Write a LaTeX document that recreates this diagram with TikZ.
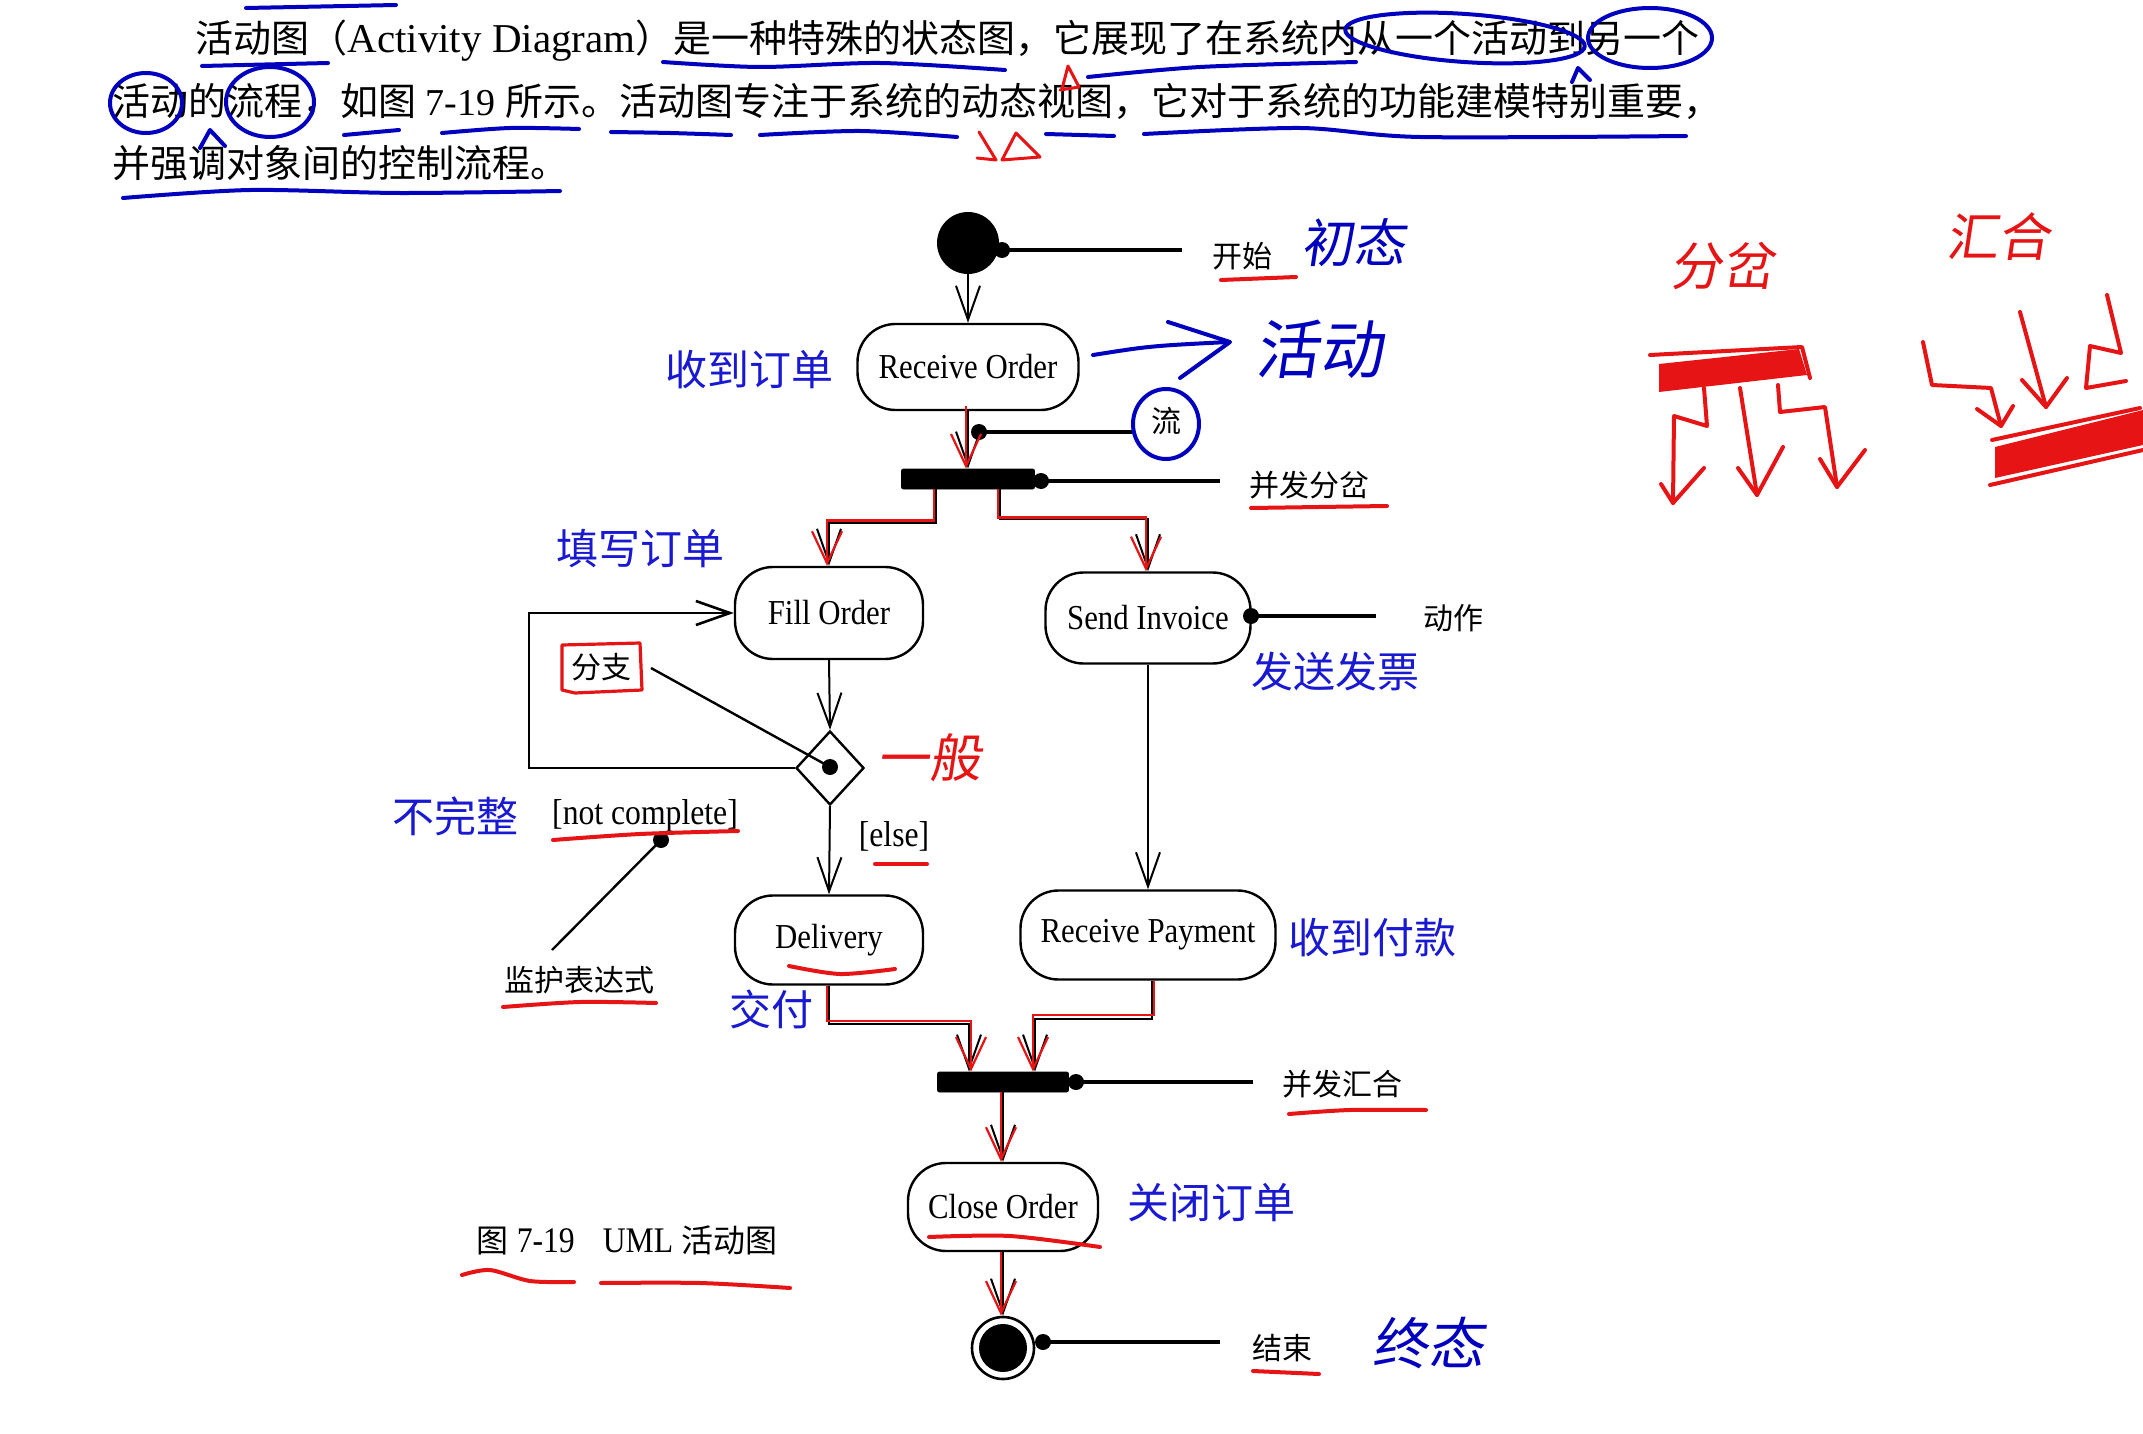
\documentclass[tikz,border=0pt]{standalone}
\usepackage{fontspec}
\setmainfont{Liberation Serif}
\newfontfamily\condserif[FakeStretch=0.88]{Liberation Serif}
\newfontfamily\cjk{Noto Sans CJK SC}
\newfontfamily\cjkhand[FakeSlant=0.15]{Noto Sans CJK SC}
\usetikzlibrary{arrows.meta,shapes.geometric,calc}
\definecolor{typeblue}{RGB}{25,25,210}
\definecolor{penblue}{RGB}{0,0,190}
\definecolor{penred}{RGB}{230,20,20}
\tikzset{
  act/.style={draw, line width=1.2pt, rounded corners=19pt, inner sep=0pt, font=\condserif\fontsize{17.5}{18}\selectfont},
  flow/.style={line width=1pt, -{Straight Barb[length=17pt,width=12pt]}},
  rflow/.style={draw=penred, line width=1.1pt, -{Straight Barb[length=16pt,width=15pt]}},
  lead/.style={line width=2pt},
  thin lead/.style={line width=1.2pt},
  dot/.style={circle, fill, inner sep=0pt, minimum size=8pt},
  lbl/.style={inner sep=0pt, font=\cjk\fontsize{15}{16}\selectfont},
  blbl/.style={inner sep=0pt, text=typeblue, font=\cjk\fontsize{21}{22}\selectfont},
  ltx/.style={inner sep=0pt, font=\condserif\fontsize{18}{19}\selectfont},
  para/.style={inner sep=0pt, anchor=west, font=\fontsize{19}{20}\selectfont},
  bpen/.style={draw=penblue, line width=2pt, line cap=round, line join=round},
  rpen/.style={draw=penred, line width=2pt, line cap=round, line join=round},
  bhand/.style={inner sep=0pt, text=penblue, font=\cjkhand\fontsize{26}{27}\selectfont},
  rhand/.style={inner sep=0pt, text=penred, font=\cjkhand\fontsize{26}{27}\selectfont},
  bar/.style={fill=black, draw=black, inner sep=0pt, minimum height=10pt, rounded corners=1pt},
}
\begin{document}
\begin{tikzpicture}[x=0.5pt,y=-0.5pt]
\useasboundingbox (0,0) rectangle (2143,1434);
\fill[white] (0,0) rectangle (2143,1434);

% ---------- paragraph ----------
\node[para] (p1) at (195,41) {{\cjk 活动图（}{\fontsize{20.5}{21}\selectfont Activity Diagram}{\cjk ）是一种特殊的状态图，它展现了在系统内从一个活动到另一个}};
\node[para] (p2) at (112,101) {{\cjk 活动的流程，如图} 7-19 {\cjk 所示。活动图专注于系统的动态视图，它对于系统的功能建模特别重要，}};
\node[para] (p3) at (112,163) {{\cjk 并强调对象间的控制流程。}};

% blue pen marks on paragraph
\draw[bpen] (246,8) -- (396,5);
\draw[bpen] plot[smooth] coordinates {(663,62) (760,67) (880,63) (1005,70)};
\draw[bpen] plot[smooth] coordinates {(1088,77) (1200,67) (1356,62)};
\draw[bpen, rotate around={-4:(1465,38)}] (1465,38) ellipse [x radius=120, y radius=24];
\draw[bpen] (1650,38) ellipse [x radius=62, y radius=30];
\draw[bpen] (1572,82) -- (1578,68) -- (1590,80);
\draw[bpen] (146,103) ellipse [x radius=36, y radius=30];
\draw[bpen] (270,102) ellipse [x radius=44, y radius=35];
\draw[bpen] (202,66) -- (328,63);
\draw[bpen] (200,148) -- (210,130) -- (225,146);
\draw[bpen] (344,135) -- (399,130);
\draw[bpen] plot[smooth] coordinates {(442,133) (510,128) (579,129)};
\draw[bpen] plot[smooth] coordinates {(611,132) (670,133) (731,135)};
\draw[bpen] plot[smooth] coordinates {(760,135) (860,131) (957,137)};
\draw[bpen] (1046,134) -- (1114,136);
\draw[bpen] plot[smooth] coordinates {(1144,134) (1300,128) (1420,137) (1686,136)};
\draw[bpen] plot[smooth] coordinates {(123,198) (250,190) (400,193) (560,191)};
% red marks on paragraph
\draw[rpen, line width=1.5pt] (1062,89) -- (1068,66) -- (1079,87) -- (1060,90);
\draw[rpen, line width=1.5pt] (979,132) -- (996,160) -- (977,158);
\draw[rpen, line width=1.5pt] (1002,160) -- (1016,133) -- (1040,157) -- (1002,160);

% ---------- diagram nodes ----------
\node[circle, fill, inner sep=0pt, minimum size=31pt] (start) at (968,243) {};
\node[dot] (sdot) at (1002,250) {};
\node[act, minimum width=110.5pt, minimum height=43pt] (ro) at (968,367) {Receive Order};
\node[bar, minimum width=66.5pt] (fork) at (968,479) {};
\node[dot] (fdot) at (1041,481) {};
\node[act, minimum width=94pt, minimum height=46pt] (fill) at (829,613) {Fill Order};
\node[act, minimum width=102.5pt, minimum height=45.5pt] (send) at (1148,618) {Send Invoice};
\node[dot] (sidot) at (1251,616) {};
\node[diamond, draw, line width=1.2pt, inner sep=0pt, minimum width=34pt, minimum height=37pt] (dia) at (830,768) {};
\node[dot] (ddot) at (830,767) {};
\node[act, minimum width=94pt, minimum height=44.5pt] (del) at (829,940) {Delivery};
\node[act, minimum width=127.5pt, minimum height=44.5pt] (rp) at (1148,935) {Receive Payment};
\node[bar, minimum width=65.5pt] (join) at (1003,1082) {};
\node[dot] (jdot) at (1076,1082) {};
\node[act, minimum width=95pt, minimum height=44pt] (close) at (1003,1207) {Close Order};
\node[circle, draw, line width=1.3pt, inner sep=0pt, minimum size=31pt] (endc) at (1003,1348) {};
\node[circle, fill, inner sep=0pt, minimum size=24pt] (endin) at (1003,1348) {};
\node[dot] (edot) at (1043,1342) {};
\node[dot] (rdot) at (979,432) {};
\node[dot] (gdot) at (661,840) {};

% ---------- labels ----------
\node[lbl] (lstart) at (1242,256) {开始};
\node[lbl] (lfork) at (1309,485) {并发分岔};
\node[lbl] (lact) at (1453,618) {动作};
\node[lbl] (ljoin) at (1342,1084) {并发汇合};
\node[lbl] (lend) at (1282,1348) {结束};
\node[lbl] (lguard) at (579,980) {监护表达式};
\node[lbl] (lbranch) at (601,667) {分支};
\node[lbl] (lflow) at (1166,421) {流};
\node[ltx] (lnc) at (645,816) {[not complete]};
\node[ltx] (lelse) at (894,836) {[else]};
\node[inner sep=0pt, font=\condserif\fontsize{18}{19}\selectfont] (cap) at (627,1240) {{\cjk\fontsize{16}{17}\selectfont 图} 7-19\hspace{14pt}UML {\cjk\fontsize{16}{17}\selectfont 活动图}};

\node[blbl] (b1) at (749,370) {收到订单};
\node[blbl] (b2) at (640,549) {填写订单};
\node[blbl] (b3) at (1335,672) {发送发票};
\node[blbl] (b4) at (455,816) {不完整};
\node[blbl] (b5) at (1372,938) {收到付款};
\node[blbl] (b6) at (771,1009) {交付};
\node[blbl] (b7) at (1211,1203) {关闭订单};

% leader end points
\coordinate (e1) at (1182,250);
\coordinate (e2) at (1132,432);
\coordinate (e3) at (1220,481);
\coordinate (e4) at (1376,616);
\coordinate (e5) at (1253,1082);
\coordinate (e6) at (1220,1342);
\coordinate (e7) at (552,950);
\coordinate (e8) at (651,668);

\draw[lead] (sdot.center) -- (e1);
\draw[lead] (rdot.center) -- (e2);
\draw[lead] (fdot.center) -- (e3);
\draw[lead] (sidot.center) -- (e4);
\draw[lead] (jdot.center) -- (e5);
\draw[lead] (edot.center) -- (e6);
\draw[thin lead] (gdot.center) -- (e7);
\draw[thin lead] (e8) -- (ddot.center);

% ---------- flows ----------
\draw[flow] (start.south) -- (ro.north);
\draw[flow] (ro.south) -- (fork.north);
\draw[flow] ([xshift=-16pt]fork.south) -- ++(0,34) -| (fill.north);
\draw[flow] ([xshift=16pt]fork.south) -- ++(0,30) -| (send.north);
\draw[flow] (fill.south) -- (dia.north);
\draw[flow, line width=1.3pt] (dia.west) -- ++(-266,0) |- (fill.west);
\draw[flow] (dia.south) -- (del.north);
\draw[flow] (send.south) -- (rp.north);
\draw[flow] (del.south) -- ++(0,38) -| ([xshift=-17pt]join.north);
\draw[flow] ([xshift=2pt]rp.south) -- ++(0,38) -| ([xshift=16pt]join.north);
\draw[flow] (join.south) -- (close.north);
\draw[flow] (close.south) -- (endc.north);

% red overlays
\draw[rflow] ([xshift=-1pt,yshift=2.5pt]ro.south) -- ([xshift=-1pt]fork.north);
\draw[rflow] ([xshift=-17pt]fork.south) -- ++(0,31) -| ([xshift=-1pt]fill.north);
\draw[rflow] ([xshift=15pt]fork.south) -- ++(0,28) -| ([xshift=-1pt]send.north);
\draw[rflow] ([xshift=-1pt]del.south) -- ++(0,35) -| ([xshift=-16pt]join.north);
\draw[rflow] ([xshift=3pt]rp.south) -- ++(0,34) -| ([xshift=15pt]join.north);
\draw[rflow] ([xshift=-1pt]join.south) -- ([xshift=-1pt]close.north);
\draw[rflow] ([xshift=-1pt]close.south) -- ([xshift=-1pt]endc.north);

% red underlines and box
\draw[rpen] (1221,280) -- (1296,277);
\draw[rpen] (1251,508) -- (1387,506);
\draw[rpen, line width=1.6pt] (562,645) -- (640,643) -- (642,690) -- (575,693) -- (562,690) -- cycle;
\draw[rpen] plot[smooth] coordinates {(553,840) (640,834) (738,831)};
\draw[rpen] (875,864) -- (927,864);
\draw[rpen] plot[smooth] coordinates {(503,1007) (580,1002) (656,1003)};
\draw[rpen] plot[smooth] coordinates {(789,966) (840,974) (895,969)};
\draw[rpen] plot[smooth] coordinates {(1289,1114) (1350,1110) (1426,1110)};
\draw[rpen] plot[smooth] coordinates {(929,1237) (1010,1236) (1100,1247)};
\draw[rpen] plot[smooth] coordinates {(462,1275) (490,1270) (530,1281) (574,1282)};
\draw[rpen] plot[smooth] coordinates {(601,1283) (700,1283) (790,1288)};
\draw[rpen] (1253,1371) -- (1319,1374);

% ---------- handwriting ----------
\node[bhand] (h1) at (1353,243) {初态};
\draw[bpen] (1093,355) .. controls (1150,346) .. (1228,342);
\draw[bpen] (1168,322) -- (1230,342) -- (1180,378);
\node[bhand, font=\cjkhand\fontsize{32}{33}\selectfont] (h2) at (1319,349) {活动};
\draw[bpen] (1166,424) ellipse [x radius=33, y radius=35];
\node[rhand] (h3) at (929,758) {一般};
\node[bhand, font=\cjkhand\fontsize{28}{29}\selectfont] (h4) at (1428,1343) {终态};

% right side sketches
\node[rhand] (h5) at (1722,266) {分岔};
\node[rhand] (h6) at (1998,237) {汇合};
\fill[penred] (1659,364) -- (1799,349) -- (1807,375) -- (1659,392) -- cycle;
\draw[rpen] (1650,355) -- (1802,347) -- (1810,378);
\draw[rpen] (1704,388) -- (1707,426) -- (1674,416) -- (1673,503);
\draw[rpen] (1661,484) -- (1673,503) -- (1704,468);
\draw[rpen] (1740,388) -- (1757,495);
\draw[rpen] (1738,468) -- (1757,495) -- (1783,447);
\draw[rpen] (1778,385) -- (1780,412) -- (1825,407) -- (1837,487);
\draw[rpen] (1820,459) -- (1837,487) -- (1865,450);
\draw[rpen] (1923,342) -- (1932,385) -- (1991,388) -- (2001,426);
\draw[rpen] (1977,409) -- (2001,426) -- (2013,406);
\draw[rpen] (2020,312) -- (2046,407);
\draw[rpen] (2022,380) -- (2046,407) -- (2067,378);
\draw[rpen] (2107,295) -- (2121,353) -- (2090,346) -- (2086,388) -- (2126,381);
\fill[penred] (1995,447) -- (2143,410) -- (2143,445) -- (1995,478) -- cycle;
\draw[rpen] (1990,485) -- (2143,450);
\draw[rpen] (1992,440) -- (2140,408);
\end{tikzpicture}
\end{document}
